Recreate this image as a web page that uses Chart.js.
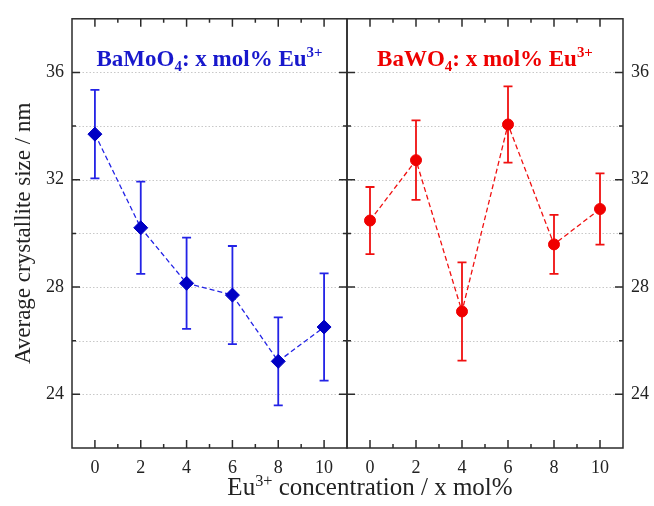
<!DOCTYPE html>
<html>
<head>
<meta charset="utf-8">
<script src="https://cdn.jsdelivr.net/npm/chart.js@4/dist/chart.umd.min.js"></script>
<style>
  body { margin: 0; background: #fff; }
  #wrap { position: relative; width: 654px; height: 506px; }
  #leftChart { position: absolute; left: 0; top: 0; }
  #rightChart { position: absolute; left: 346px; top: 0; }
</style>
</head>
<body>
<div id="wrap">
  <canvas id="leftChart" width="654" height="506"></canvas>
  <canvas id="rightChart" width="308" height="506"></canvas>
</div>
<script>
// --- Data ---
const concentrations = [0, 2, 4, 6, 8, 10];
const moSize = [33.70, 30.21, 28.14, 27.70, 25.23, 26.51];
const moErr = [1.65, 1.72, 1.70, 1.83, 1.64, 2.00];
const wSize = [30.48, 32.73, 27.09, 34.06, 29.59, 30.91];
const wErr = [1.25, 1.48, 1.83, 1.42, 1.10, 1.33];

const xMajorTicks = [0, 2, 4, 6, 8, 10];
const xMinorTicks = [1, 3, 5, 7, 9];
const yGridTicks = [24, 26, 28, 30, 32, 34, 36];
const yLabelTicks = [24, 28, 32, 36];
const yMinorTicks = [26, 30, 34];

const SERIF = '"Liberation Serif", "DejaVu Serif", serif';
const FRAME = '#2b2b2b';

// draw text with sub/superscript pieces
function drawRich(ctx, parts, x, y, size, weight, align) {
    const widths = parts.map(p => {
        ctx.font = `${weight} ${p.s ? size * 0.65 : size}px ${SERIF}`;
        return ctx.measureText(p.t).width;
    });
    const total = widths.reduce((a, b) => a + b, 0);
    let cx = align === 'center' ? x - total / 2 : x;
    ctx.textAlign = 'left';
    ctx.textBaseline = 'alphabetic';
    parts.forEach((p, i) => {
        ctx.font = `${weight} ${p.s ? size * 0.65 : size}px ${SERIF}`;
        const dy = p.s === 1 ? -size * 0.38 : (p.s === -1 ? size * 0.22 : 0);
        ctx.fillText(p.t, cx, y + dy);
        cx += widths[i];
    });
}

function pointsOf(ys) {
    return concentrations.map((c, i) => ({ x: c, y: ys[i] }));
}

// gridlines, error bars, frame and inward ticks
function panelPlugin(errs, color) {
    return {
        id: 'panel',
        beforeDatasetsDraw(chart) {
            const { ctx, chartArea: a, scales: { x, y } } = chart;
            ctx.save();
            ctx.strokeStyle = '#c8c8c8';
            ctx.lineWidth = 1;
            ctx.setLineDash([1.5, 2]);
            yGridTicks.forEach(v => {
                const py = Math.round(y.getPixelForValue(v)) + 0.5;
                ctx.beginPath();
                ctx.moveTo(a.left, py);
                ctx.lineTo(a.right, py);
                ctx.stroke();
            });
            ctx.setLineDash([]);

            const ys = chart.data.datasets[0].data;
            ctx.strokeStyle = color;
            ctx.lineWidth = 1.8;
            ys.forEach((p, i) => {
                const px = x.getPixelForValue(p.x);
                const top = y.getPixelForValue(p.y + errs[i]);
                const bot = y.getPixelForValue(p.y - errs[i]);
                ctx.beginPath();
                ctx.moveTo(px, top);
                ctx.lineTo(px, bot);
                ctx.moveTo(px - 4.5, top);
                ctx.lineTo(px + 4.5, top);
                ctx.moveTo(px - 4.5, bot);
                ctx.lineTo(px + 4.5, bot);
                ctx.stroke();
            });
            ctx.restore();
        },
        afterDraw(chart) {
            const { ctx, chartArea: a, scales: { x, y } } = chart;
            ctx.save();
            ctx.strokeStyle = FRAME;
            ctx.lineWidth = 1.5;
            ctx.beginPath();
            xMajorTicks.forEach(v => {
                const px = x.getPixelForValue(v);
                ctx.moveTo(px, a.bottom); ctx.lineTo(px, a.bottom - 8);
                ctx.moveTo(px, a.top); ctx.lineTo(px, a.top + 8);
            });
            xMinorTicks.forEach(v => {
                const px = x.getPixelForValue(v);
                ctx.moveTo(px, a.bottom); ctx.lineTo(px, a.bottom - 4);
                ctx.moveTo(px, a.top); ctx.lineTo(px, a.top + 4);
            });
            yLabelTicks.forEach(v => {
                const py = y.getPixelForValue(v);
                ctx.moveTo(a.left, py); ctx.lineTo(a.left + 8, py);
                ctx.moveTo(a.right, py); ctx.lineTo(a.right - 8, py);
            });
            yMinorTicks.forEach(v => {
                const py = y.getPixelForValue(v);
                ctx.moveTo(a.left, py); ctx.lineTo(a.left + 4, py);
                ctx.moveTo(a.right, py); ctx.lineTo(a.right - 4, py);
            });
            ctx.stroke();
            ctx.strokeRect(a.left, a.top, a.right - a.left, a.bottom - a.top);
            ctx.restore();
        }
    };
}

// panel heading and shared axis titles
function titlePlugin(parts, color, withAxisTitles) {
    return {
        id: 'titles',
        afterDraw(chart) {
            const { ctx, chartArea: a } = chart;
            ctx.save();
            ctx.fillStyle = color;
            drawRich(ctx, parts, (a.left + a.right) / 2, 66, 23, 'bold', 'center');
            if (withAxisTitles) {
                ctx.fillStyle = '#222';
                drawRich(ctx, [
                    { t: 'Eu' }, { t: '3+', s: 1 }, { t: ' concentration / x mol%' }
                ], 370, 495, 25, 'normal', 'center');
                ctx.translate(30, (a.top + a.bottom) / 2);
                ctx.rotate(-Math.PI / 2);
                drawRich(ctx, [{ t: 'Average crystallite size / nm' }], 0, 0, 23, 'normal', 'center');
            }
            ctx.restore();
        }
    };
}

function makeChart(id, ys, errs, lineColor, markColor, pointStyle, radius, yPos, padding, yWidth, heading, headColor, withAxisTitles) {
    const tickFont = { family: SERIF, size: 18 };
    return new Chart(document.getElementById(id), {
        type: 'line',
        data: {
            datasets: [{
                data: pointsOf(ys),
                borderColor: lineColor,
                borderWidth: 1.3,
                borderDash: [5, 3],
                pointStyle: pointStyle,
                pointRadius: radius,
                pointBackgroundColor: markColor,
                pointBorderColor: markColor,
                pointBorderWidth: 1,
                tension: 0
            }]
        },
        options: {
            responsive: false,
            animation: false,
            devicePixelRatio: 1,
            layout: { padding: padding, autoPadding: false },
            plugins: { legend: { display: false }, tooltip: { enabled: false } },
            scales: {
                x: {
                    type: 'linear',
                    min: -1,
                    max: 11,
                    grid: { display: false, drawTicks: false },
                    border: { display: false },
                    afterBuildTicks: s => { s.ticks = xMajorTicks.map(v => ({ value: v })); },
                    afterFit: s => { s.height = 58; },
                    ticks: { font: tickFont, color: '#222', padding: 9, maxRotation: 0 }
                },
                y: {
                    type: 'linear',
                    position: yPos,
                    min: 22,
                    max: 38,
                    grid: { display: false, drawTicks: false },
                    border: { display: false },
                    afterBuildTicks: s => { s.ticks = yLabelTicks.map(v => ({ value: v })); },
                    afterFit: s => { s.width = yWidth; },
                    ticks: { font: tickFont, color: '#222', padding: 8 }
                }
            }
        },
        plugins: [panelPlugin(errs, lineColor), titlePlugin(heading, headColor, withAxisTitles)]
    });
}

makeChart('leftChart', moSize, moErr, '#2323e6', '#0000c4', 'rectRot', 7,
    'left', { left: 0, right: 307, top: 15, bottom: 0 }, 72,
    [{ t: 'BaMoO' }, { t: '4', s: -1 }, { t: ': x mol% Eu' }, { t: '3+', s: 1 }], '#1818cc', true);

makeChart('rightChart', wSize, wErr, '#f01010', '#f00000', 'circle', 5.5,
    'right', { left: 1, right: 0, top: 15, bottom: 0 }, 31,
    [{ t: 'BaWO' }, { t: '4', s: -1 }, { t: ': x mol% Eu' }, { t: '3+', s: 1 }], '#ee0000', false);
</script>
</body>
</html>
